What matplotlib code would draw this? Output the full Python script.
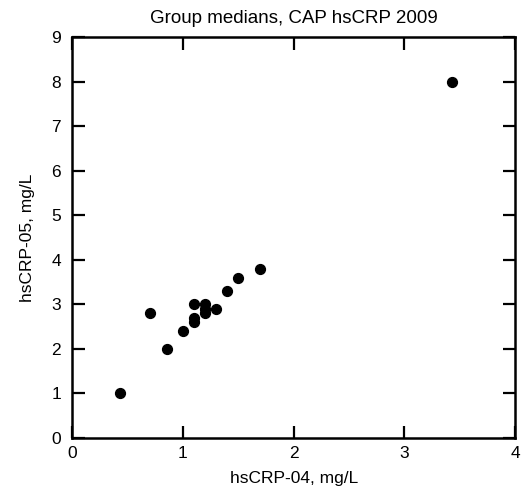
import matplotlib
matplotlib.use('Agg')
from matplotlib import pyplot as plt

plt.rcParams['font.family'] = ['Liberation Sans', 'DejaVu Sans']

# group medians
x_04 = [0.43, 0.86, 1.0, 0.7, 1.1, 1.1, 1.1, 1.2, 1.2, 1.2, 1.3, 1.4, 1.5, 1.7, 3.43]
y_05 = [1.0, 2.0, 2.4, 2.8, 3.0, 2.7, 2.6, 3.0, 2.9, 2.8, 2.9, 3.3, 3.6, 3.8, 8.0]

fig = plt.figure(figsize=(5.23, 4.96), dpi=100)
ax = fig.add_axes([0.138, 0.117, 0.847, 0.808])

ax.scatter(x_04, y_05, s=50, color='black', zorder=3)

ax.set_xlim(0, 4)
ax.set_ylim(0, 9)
ax.set_xticks([0, 1, 2, 3, 4])
ax.set_yticks(range(10))
ax.tick_params(direction='in', top=True, right=True, length=9, width=1.6, labelsize=12.5)
ax.tick_params(axis='y', pad=8)
ax.tick_params(axis='x', pad=6)
for s in ax.spines.values():
    s.set_linewidth(1.8)

ax.set_title('Group medians, CAP hsCRP 2009', fontsize=13.5, pad=10)
ax.set_xlabel('hsCRP-04, mg/L', fontsize=12.5, labelpad=7)
ax.set_ylabel('hsCRP-05, mg/L', fontsize=12.5, labelpad=12)

fig.savefig('out.png', dpi=100)
